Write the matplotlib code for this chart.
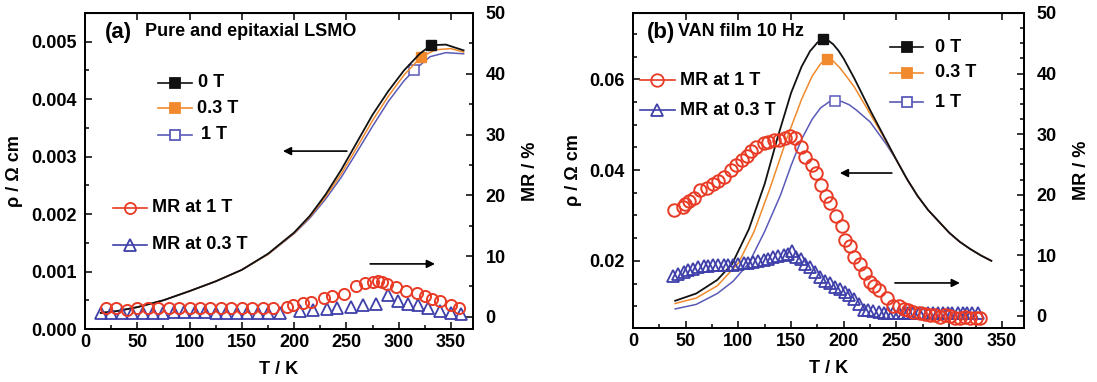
import matplotlib
matplotlib.use("Agg")
import matplotlib.pyplot as plt
from matplotlib.ticker import MultipleLocator

plt.rcParams['font.family'] = ['Liberation Sans', 'DejaVu Sans']
plt.rcParams['font.weight'] = 'bold'

# ---------------- Panel (a) data ----------------
a_T0 = [15, 30, 50, 75, 100, 125, 150, 175, 200, 215, 230, 245, 260, 275, 290, 305, 320, 331, 345, 362]
a_rho0 = [0.00028, 0.00031, 0.00038, 0.00050, 0.00066, 0.00083, 0.00103, 0.00131, 0.00168, 0.00197,
          0.00234, 0.00277, 0.00325, 0.00373, 0.00414, 0.00450, 0.00479, 0.00494, 0.00495, 0.00485]
a_T03 = [15, 30, 50, 75, 100, 125, 150, 175, 200, 215, 230, 245, 260, 275, 290, 305, 321, 335, 350, 362]
a_rho03 = [0.00028, 0.00031, 0.00038, 0.00050, 0.00066, 0.00083, 0.00103, 0.00130, 0.00167, 0.00195,
           0.00230, 0.00270, 0.00316, 0.00363, 0.00405, 0.00442, 0.00473, 0.00486, 0.00488, 0.00482]
a_T1 = [15, 30, 50, 75, 100, 125, 150, 175, 200, 215, 230, 245, 260, 275, 290, 305, 315, 330, 345, 362]
a_rho1 = [0.00028, 0.00031, 0.00038, 0.00050, 0.00066, 0.00083, 0.00103, 0.00130, 0.00166, 0.00193,
          0.00226, 0.00264, 0.00308, 0.00353, 0.00396, 0.00432, 0.00451, 0.00474, 0.00481, 0.00479]
a_mark_idx = [17, 16, 16]  # which point carries the single symbol

a_T_mr1 = [20, 30, 40, 50, 60, 70, 80, 90, 100, 110, 120, 130, 140, 150, 160, 170, 180,
           193, 199, 208, 216, 229, 236, 248, 259, 268, 275, 280, 284, 289, 297, 307, 317,
           325, 332, 339, 350, 358]
a_mr1 = [1.4, 1.4, 1.2, 1.4, 1.4, 1.4, 1.4, 1.4, 1.4, 1.5, 1.5, 1.5, 1.4, 1.4, 1.5, 1.4, 1.4,
         1.6, 2.0, 2.3, 2.5, 3.1, 3.4, 3.8, 5.0, 5.6, 5.7, 5.9, 5.7, 5.4, 4.9, 4.3, 3.9,
         3.4, 2.9, 2.6, 1.9, 1.4]
a_T_mr03 = [15, 25, 35, 45, 55, 65, 75, 85, 95, 105, 115, 125, 135, 145, 155, 165, 175,
            186, 206, 218, 231, 241, 254, 266, 278, 290, 299, 309, 318, 328, 339, 350, 360]
a_mr03 = [0.6, 0.6, 0.6, 0.7, 0.7, 0.7, 0.7, 0.8, 0.8, 0.8, 0.8, 0.7, 0.7, 0.6, 0.6, 0.6, 0.6,
          0.6, 1.0, 1.2, 1.35, 1.5, 1.7, 1.9, 2.05, 3.6, 2.6, 2.05, 1.9, 1.4, 1.0, 0.7, 0.5]

# ---------------- Panel (b) data ----------------
tail_T = [260, 270, 280, 290, 300, 310, 320, 330, 340]
tail_rho = [0.0380, 0.0343, 0.0312, 0.0287, 0.0262, 0.0242, 0.0226, 0.0212, 0.0200]
b_T0 = [40, 60, 80, 94, 110, 125, 137, 150, 160, 168, 175, 180, 185, 190, 195, 200, 210, 225,
        240, 250] + tail_T
b_rho0 = [0.0112, 0.0128, 0.0158, 0.0193, 0.0270, 0.0370, 0.0470, 0.0570, 0.0628, 0.0662,
          0.0681, 0.0688, 0.0686, 0.0677, 0.0663, 0.0645, 0.0602, 0.0532, 0.0466, 0.0422] + tail_rho
b_T03 = [40, 60, 80, 100, 115, 130, 146, 160, 170, 178, 184, 190, 196, 202, 210, 225, 240,
         250] + tail_T
b_rho03 = [0.0106, 0.0118, 0.0145, 0.0195, 0.0265, 0.0360, 0.0470, 0.0556, 0.0607, 0.0634,
           0.0645, 0.0640, 0.0626, 0.0608, 0.0583, 0.0524, 0.0464, 0.0422] + tail_rho
b_T1 = [40, 60, 80, 95, 110, 125, 140, 150, 160, 170, 178, 186, 192, 198, 205, 212, 225, 240,
        250] + tail_T
b_rho1 = [0.0094, 0.0104, 0.0128, 0.0155, 0.0195, 0.0265, 0.0345, 0.0410, 0.0468, 0.0512,
          0.0537, 0.0550, 0.0553, 0.0551, 0.0544, 0.0532, 0.0506, 0.0458, 0.0422] + tail_rho
b_mark_idx = [11, 10, 12]

b_T_mr1 = [39, 47, 49, 53, 58, 64, 70, 76, 81, 86, 93, 98, 103, 108, 112, 117, 124, 128, 134,
           139, 144, 149, 154, 159, 163, 170, 174, 178, 183, 187, 193, 198, 201, 206, 210, 215,
           220, 225, 229, 233, 241, 247, 252, 257, 261, 266, 272, 277, 282, 287, 291, 296, 301,
           306, 310, 315, 320, 325, 329]
b_mr1 = [17.4, 18.0, 18.4, 18.9, 19.5, 20.7, 21.1, 21.8, 22.2, 23.0, 24.1, 24.9, 25.7, 26.4, 27.3,
         27.8, 28.5, 28.7, 29.0, 29.0, 29.3, 29.7, 29.3, 27.8, 26.3, 24.9, 23.6, 21.6, 19.8, 18.6,
         16.5, 14.8, 12.6, 11.6, 9.8, 8.6, 7.0, 5.6, 4.9, 4.2, 3.0, 1.7, 1.6, 1.2, 1.0, 0.65, 0.4,
         0.3, 0.2, 0.1, -0.15, 0.1, 0.0, -0.3, -0.4, -0.15, -0.3, -0.3, -0.3]
b_T_mr03 = [38, 43, 48, 52, 57, 62, 67, 71, 76, 81, 86, 90, 95, 100, 105, 109, 114, 119, 124, 128,
            133, 138, 143, 147, 151, 155, 159, 163, 168, 173, 177, 182, 187, 192, 196, 201, 205,
            210, 214, 219, 223, 228, 233, 238, 242, 247, 252, 257, 261, 266, 271, 275, 280, 285,
            289, 294, 299, 303, 308, 313, 317, 322, 327]
b_mr03 = [6.65, 6.9, 7.2, 7.5, 7.7, 8.0, 8.2, 8.3, 8.4, 8.45, 8.45, 8.4, 8.45, 8.6, 8.7, 8.8, 8.9,
          9.1, 9.2, 9.4, 9.65, 9.9, 10.1, 10.2, 10.7, 9.65, 9.4, 8.6, 8.0, 7.2, 6.5, 5.8, 5.4, 4.7,
          4.4, 3.9, 3.4, 2.8, 2.0, 1.0, 0.9, 0.8, 0.65, 0.55, 0.5, 0.5, 0.45, 0.45, 0.45, 0.45,
          0.45, 0.45, 0.5, 0.5, 0.5, 0.5, 0.5, 0.5, 0.5, 0.5, 0.5, 0.5, 0.5]

field_labels = ['0 T', '0.3 T', '1 T']
mr_labels = ['MR at 1 T', 'MR at 0.3 T']
x_ticks = [0, 50, 100, 150, 200, 250, 300, 350]

C_BLACK = '#111111'
C_ORANGE = '#F08A2C'
C_BLUE = '#5A5AB8'
C_RED = '#E83A25'
C_TRI = '#3F3FAA'

fig = plt.figure(figsize=(10.97, 3.82), dpi=100)
FS = 13


def style_axes(ax, ax2, ylim, yl_major, yl_minor):
    ax.set_xlim(0, 371)
    ax.set_ylim(*ylim)
    ax2.set_ylim(-2, 50)
    ax.set_xticks(x_ticks)
    ax.xaxis.set_minor_locator(MultipleLocator(25))
    ax.yaxis.set_major_locator(MultipleLocator(yl_major))
    ax.yaxis.set_minor_locator(MultipleLocator(yl_minor))
    ax.tick_params(which='both', direction='in', top=False, right=False, width=1.1,
                   labelsize=FS)
    ax.tick_params(which='major', length=5)
    ax.tick_params(which='minor', length=3)
    ax.tick_params(axis='y', pad=6)
    ax2.tick_params(which='both', direction='in', width=1.1, labelsize=FS, pad=9)
    ax2.tick_params(which='major', length=5)
    ax2.tick_params(which='minor', length=3)
    for lab in ax.get_xticklabels() + ax.get_yticklabels() + ax2.get_yticklabels():
        lab.set_fontweight('bold')
    for sp in ax.spines.values():
        sp.set_linewidth(1.3)
    for sp in ax2.spines.values():
        sp.set_linewidth(1.3)
    # top ticks at the major positions
    secx = ax.secondary_xaxis('top')
    secx.set_xticks(x_ticks)
    secx.tick_params(direction='in', length=5, width=1.1, labeltop=False)
    ax.set_xlabel('T / K', fontsize=FS, fontweight='bold', labelpad=7)
    ax.set_ylabel('ρ / Ω cm', fontsize=FS, fontweight='bold')
    ax2.set_ylabel('MR / %', fontsize=FS, fontweight='bold', labelpad=12)


def legend_row(ax, x0, x1, xt, y, color, marker, mfc, label, ms=7):
    ax.plot([x0, x1], [y, y], color=color, lw=1.2, transform=ax.transAxes, clip_on=False)
    ax.plot([(x0 + x1) / 2], [y], color=color, marker=marker, mfc=mfc, mec=color, ms=ms,
            mew=1.3, transform=ax.transAxes, clip_on=False, ls='none')
    ax.text(xt, y, label, transform=ax.transAxes, fontsize=FS, fontweight='bold',
            va='center', ha='left')


def arrow(ax, start, end):
    ax.annotate('', xy=end, xytext=start, xycoords='axes fraction', textcoords='axes fraction',
                arrowprops=dict(arrowstyle='-|>', color='black', lw=1.2, mutation_scale=12,
                                shrinkA=0, shrinkB=0))


# ---------------- Panel (a) ----------------
axa = fig.add_axes([85 / 1097, 53 / 382, 388 / 1097, 316 / 382])
axa2 = axa.twinx()
axa2.yaxis.set_major_locator(MultipleLocator(10))
axa2.yaxis.set_minor_locator(MultipleLocator(5))
axa.plot(a_T1, a_rho1, color=C_BLUE, lw=1.1, marker='s', mfc='white', mec=C_BLUE, ms=7, mew=1.1,
         markevery=[a_mark_idx[2]])
axa.plot(a_T03, a_rho03, color=C_ORANGE, lw=1.1, marker='s', mfc=C_ORANGE, mec=C_ORANGE, ms=7,
         markevery=[a_mark_idx[1]])
axa.plot(a_T0, a_rho0, color=C_BLACK, lw=1.3, marker='s', mfc=C_BLACK, mec=C_BLACK, ms=7,
         markevery=[a_mark_idx[0]])
axa2.plot(a_T_mr03, a_mr03, ls='none', marker='^', mfc='none', mec=C_TRI, ms=8, mew=1.3)
axa2.plot(a_T_mr1, a_mr1, ls='none', marker='o', mfc='none', mec=C_RED, ms=8, mew=1.4)
style_axes(axa, axa2, (0, 0.0055), 0.001, 0.0005)
axa.yaxis.set_major_formatter(plt.FuncFormatter(lambda v, p: f'{v:.3f}'))

axa2.text(0.052, 0.937, '(a)', transform=axa2.transAxes, fontsize=16, fontweight='bold',
          va='center', ha='left')
axa2.text(0.155, 0.94, 'Pure and epitaxial LSMO', transform=axa2.transAxes, fontsize=FS,
          fontweight='bold', va='center', ha='left')
legend_row(axa2, 0.188, 0.276, 0.292, 0.780, C_BLACK, 's', C_BLACK, field_labels[0])
legend_row(axa2, 0.188, 0.276, 0.288, 0.698, C_ORANGE, 's', C_ORANGE, field_labels[1])
legend_row(axa2, 0.188, 0.276, 0.300, 0.614, C_BLUE, 's', 'white', field_labels[2])
legend_row(axa2, 0.072, 0.160, 0.173, 0.383, C_RED, 'o', 'none', mr_labels[0], ms=8)
legend_row(axa2, 0.072, 0.160, 0.173, 0.266, C_TRI, '^', 'none', mr_labels[1], ms=8)
arrow(axa2, (0.675, 0.563), (0.510, 0.563))
arrow(axa2, (0.735, 0.206), (0.902, 0.206))

# ---------------- Panel (b) ----------------
axb = fig.add_axes([633 / 1097, 54 / 382, 391 / 1097, 315 / 382])
axb2 = axb.twinx()
axb2.yaxis.set_major_locator(MultipleLocator(10))
axb2.yaxis.set_minor_locator(MultipleLocator(2.5))
axb.plot(b_T1, b_rho1, color=C_BLUE, lw=1.1, marker='s', mfc='white', mec=C_BLUE, ms=7, mew=1.1,
         markevery=[b_mark_idx[2]])
axb.plot(b_T03, b_rho03, color=C_ORANGE, lw=1.1, marker='s', mfc=C_ORANGE, mec=C_ORANGE, ms=7,
         markevery=[b_mark_idx[1]])
axb.plot(b_T0, b_rho0, color=C_BLACK, lw=1.3, marker='s', mfc=C_BLACK, mec=C_BLACK, ms=7,
         markevery=[b_mark_idx[0]])
axb2.plot(b_T_mr03, b_mr03, ls='none', marker='^', mfc='none', mec=C_TRI, ms=9, mew=1.3)
axb2.plot(b_T_mr1, b_mr1, ls='none', marker='o', mfc='none', mec=C_RED, ms=9, mew=1.4)
style_axes(axb, axb2, (0.0052, 0.0746), 0.02, 0.005)
axb.yaxis.set_major_formatter(plt.FuncFormatter(lambda v, p: f'{v:.2f}'))

axb2.text(0.036, 0.937, '(b)', transform=axb2.transAxes, fontsize=16, fontweight='bold',
          va='center', ha='left')
axb2.text(0.115, 0.94, 'VAN film 10 Hz', transform=axb2.transAxes, fontsize=FS,
          fontweight='bold', va='center', ha='left')
legend_row(axb2, 0.657, 0.742, 0.772, 0.892, C_BLACK, 's', C_BLACK, field_labels[0])
legend_row(axb2, 0.657, 0.742, 0.772, 0.810, C_ORANGE, 's', C_ORANGE, field_labels[1])
legend_row(axb2, 0.657, 0.742, 0.772, 0.717, C_BLUE, 's', 'white', field_labels[2])
legend_row(axb2, 0.018, 0.107, 0.120, 0.787, C_RED, 'o', 'none', mr_labels[0], ms=9)
legend_row(axb2, 0.018, 0.107, 0.120, 0.692, C_TRI, '^', 'none', mr_labels[1], ms=9)
arrow(axb2, (0.662, 0.492), (0.529, 0.492))
arrow(axb2, (0.670, 0.143), (0.836, 0.143))

axa.yaxis.set_label_coords(-0.16, 0.5)
axb.yaxis.set_label_coords(-0.13, 0.5)

fig.savefig('out.png', dpi=100)
